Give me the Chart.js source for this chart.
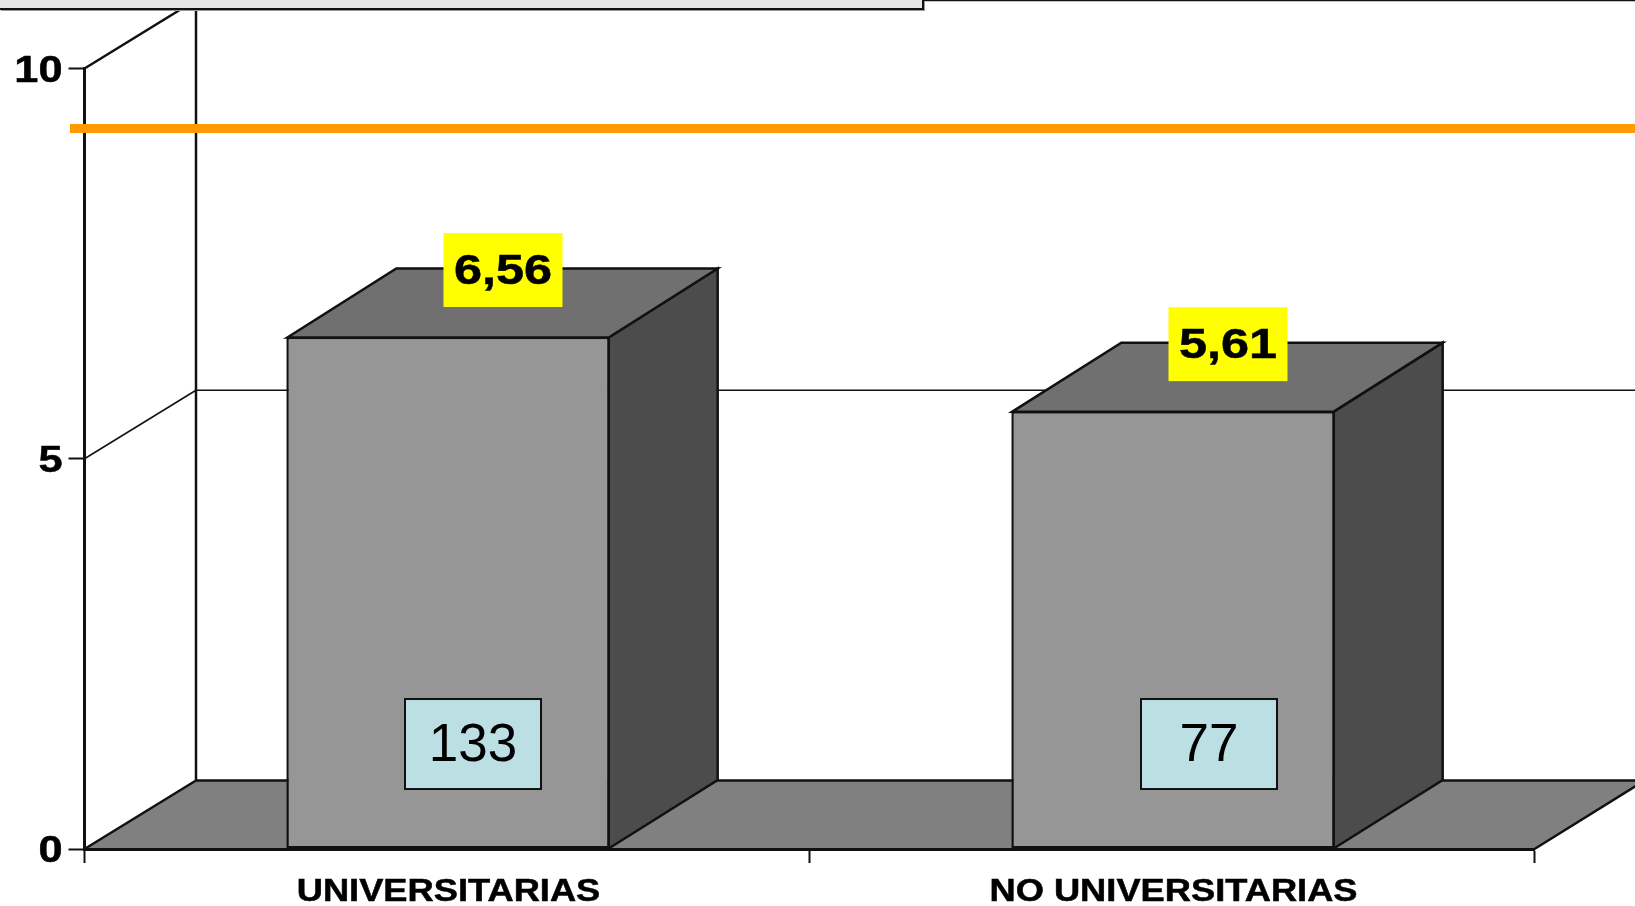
<!DOCTYPE html>
<html>
<head>
<meta charset="utf-8">
<style>
html,body{margin:0;padding:0;background:#fff;overflow:hidden}
#wrap{position:relative;width:1635px;height:906px}
canvas{position:absolute;left:0;top:0}
#tab{position:absolute;left:0;top:0;width:922px;height:8px;background:#e6e6e6;border-right:2px solid #111;border-bottom:2px solid #111;box-shadow:1px 1px 0 #999}
</style>
<script src="https://cdn.jsdelivr.net/npm/chart.js@4"></script>
</head>
<body>
<div id="wrap"><canvas id="c" width="1635" height="906"></canvas><div id="tab"></div></div>
<script>
const categories = ['UNIVERSITARIAS', 'NO UNIVERSITARIAS'];
const means = [6.56, 5.61];
const counts = [133, 77];
const referenceLevel = [9.23, 9.23];
const yTicks = [0, 5, 10];

const DX = 110, DY = 68.5;
const countBoxShift = [25, 36];
const LINE_START = 70;
const LW = 2.5;

function poly(ctx, pts, fill, lw) {
  ctx.beginPath();
  pts.forEach((p, i) => i ? ctx.lineTo(p[0], p[1]) : ctx.moveTo(p[0], p[1]));
  ctx.closePath();
  if (fill) { ctx.fillStyle = fill; ctx.fill(); }
  ctx.lineWidth = lw || LW; ctx.strokeStyle = '#111'; ctx.lineJoin = 'miter'; ctx.stroke();
}
function seg(ctx, x0, y0, x1, y1, lw) {
  ctx.beginPath(); ctx.moveTo(x0, y0); ctx.lineTo(x1, y1);
  ctx.lineWidth = lw || LW; ctx.strokeStyle = '#111'; ctx.stroke();
}

const stretchText = {
  id: 'stretchText',
  beforeInit(chart) {
    const ctx = chart.ctx, orig = ctx.fillText.bind(ctx);
    ctx.fillText = function (t, x, y, m) {
      if (!/bold/.test(ctx.font)) return orig(t, x, y, m);
      const isValue = /42px/.test(ctx.font), isY = /37px/.test(ctx.font);
      ctx.save();
      ctx.translate(x + (!isValue && !isY ? 1.5 : 0), y + (isY ? 3 : 0));
      ctx.scale(isValue ? 1.2 : 1.17, 1);
      orig(t, 0, 0);
      ctx.lineWidth = 0.5; ctx.strokeStyle = ctx.fillStyle; ctx.strokeText(t, 0, 0);
      ctx.restore();
    };
  }
};

const walls = {
  id: 'walls',
  afterDatasetsUpdate(chart) {
    const pts = chart.getDatasetMeta(0).data;
    pts[0].x = LINE_START;
    pts[pts.length - 1].x = chart.width;
    chart.getDatasetMeta(1).data.forEach(b => { b.x += 1; });
  },
  beforeDraw(chart) {
    const { ctx, chartArea: a, scales: { y } } = chart;
    ctx.save();
    const bx = a.left + DX + 1.5;
    const by0 = a.bottom - DY;
    poly(ctx, [[a.left, a.bottom], [bx, by0], [a.right + DX, by0], [a.right, a.bottom]], '#808080', 0.01);
    yTicks.forEach(v => {
      const p = y.getPixelForValue(v);
      seg(ctx, a.left, p, bx, p - DY, v === 5 ? 1.5 : LW);
      seg(ctx, bx, p - DY, a.right + DX, p - DY, v === 5 ? 1.5 : LW);
    });
    seg(ctx, a.right, a.bottom, a.right + DX, by0, LW);
    seg(ctx, bx, y.getPixelForValue(10) - DY, bx, by0, LW);
    ctx.restore();
  }
};

const depth = {
  id: 'depth',
  beforeDatasetsDraw(chart) {
    const ctx = chart.ctx, meta = chart.getDatasetMeta(1);
    ctx.save();
    meta.data.forEach(b => {
      const l = b.x - b.width / 2 + 1, r = b.x + b.width / 2 - 1, t = b.y + 0.5, s = b.base;
      const bk = t - DY - 0.5;
      poly(ctx, [[r, s], [r + DX - 1, s - DY], [r + DX - 1, bk], [r, t]], '#4c4c4c');
      poly(ctx, [[l, t], [l + DX - 1, bk], [r + DX - 1, bk], [r, t]], '#707070');
    });
    ctx.restore();
  },
  afterDatasetsDraw(chart) {
    const { ctx, scales: { y } } = chart, meta = chart.getDatasetMeta(1);
    ctx.save();
    ctx.textAlign = 'center'; ctx.textBaseline = 'middle';
    meta.data.forEach((b, i) => {
      const cx = b.x + 55, cy = b.y - 67;
      ctx.fillStyle = '#ffff00';
      ctx.fillRect(cx - 59.5, cy - 37, 119, 74);
      ctx.fillStyle = '#000';
      ctx.font = 'bold 42px "Liberation Sans", Arial, sans-serif';
      ctx.fillText(means[i].toFixed(2).replace('.', ','), cx, cy + 2);
      const nx = b.x + countBoxShift[i], ny = y.getPixelForValue(1.345);
      ctx.fillStyle = '#bbdfe2';
      ctx.fillRect(nx - 68, ny - 45, 136, 90);
      ctx.lineWidth = 2; ctx.strokeStyle = '#111';
      ctx.strokeRect(nx - 68, ny - 45, 136, 90);
      ctx.fillStyle = '#000';
      ctx.font = '53px "Liberation Sans", Arial, sans-serif';
      ctx.fillText(String(counts[i]), nx, ny + 2);
    });
    ctx.restore();
  }
};

new Chart(document.getElementById('c'), {
  data: {
    labels: categories,
    datasets: [
      {
        type: 'line', order: 0, clip: false, data: referenceLevel,
        borderColor: '#ff9900', borderWidth: 9, pointRadius: 0, tension: 0, borderCapStyle: 'butt'
      },
      {
        type: 'bar', order: 1, data: means,
        backgroundColor: '#969696', borderColor: '#111', borderWidth: 2.5, borderSkipped: false,
        categoryPercentage: 1, barPercentage: 0.446
      }
    ]
  },
  options: {
    responsive: false, animation: false,
    layout: { padding: { left: 0, top: 68.5, right: 100.5, bottom: 0 } },
    plugins: { legend: { display: false }, tooltip: { enabled: false }, title: { display: false } },
    scales: {
      x: {
        type: 'category', offset: true, position: 'bottom',
        afterFit(s) { s.height = 57; },
        grid: { offset: true, drawOnChartArea: false, drawTicks: true, tickLength: 14, tickColor: '#111', tickWidth: 2 },
        border: { display: true, color: '#111', width: 3 },
        ticks: { color: '#000', padding: 11, maxRotation: 0, font: { family: '"Liberation Sans", Arial, sans-serif', weight: 'bold', size: 31 } }
      },
      y: {
        type: 'linear', min: 0, max: 10, position: 'left',
        afterFit(s) { s.width = 84.5; },
        afterBuildTicks(s) { s.ticks = yTicks.map(v => ({ value: v })); },
        grid: { drawOnChartArea: false, drawTicks: true, tickLength: 16, tickColor: '#111', tickWidth: 2 },
        border: { display: true, color: '#111', width: 3 },
        ticks: { color: '#000', padding: 6, font: { family: '"Liberation Sans", Arial, sans-serif', weight: 'bold', size: 37 } }
      }
    }
  },
  plugins: [stretchText, walls, depth]
});
</script>
</body>
</html>
